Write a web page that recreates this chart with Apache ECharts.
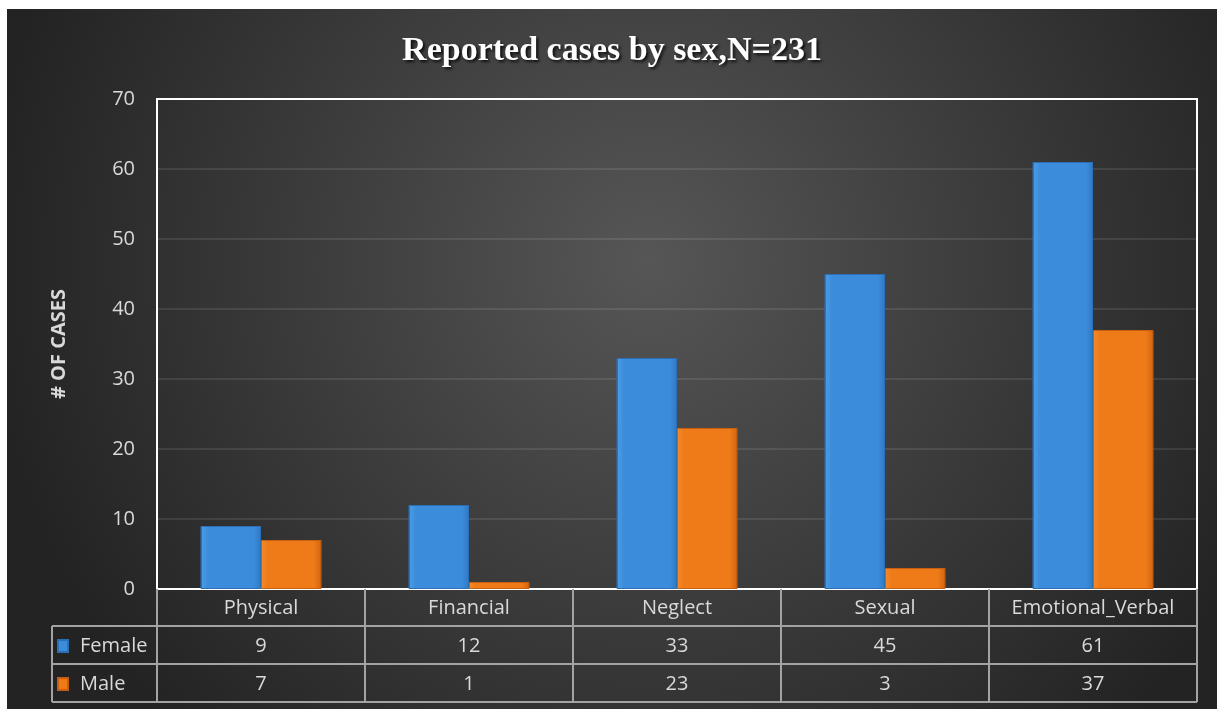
<!DOCTYPE html>
<html>
<head>
<meta charset="utf-8">
<script src="https://cdn.jsdelivr.net/npm/echarts@6/dist/echarts.min.js"></script>
<style>
html,body{margin:0;padding:0;background:#fff;}
#chart{position:absolute;left:7px;top:9px;width:1210px;height:700px;}
</style>
</head>
<body>
<div id="chart"></div>
<script>
const categories = ['Physical', 'Financial', 'Neglect', 'Sexual', 'Emotional_Verbal'];
const female = [9, 12, 33, 45, 61];
const male = [7, 1, 23, 3, 37];
const seriesNames = ['Female', 'Male'];
const yTicks = { min: 0, max: 70, interval: 10 };

const chart = echarts.init(document.getElementById('chart'));
const FONT = '"Open Sans", sans-serif';
const TXT = '#d9d9d9';
const LINE = '#a3a3a3';

function hGrad(c0, c1, c2) {
  return { type: 'linear', x: 0, y: 0, x2: 1, y2: 0,
    colorStops: [{offset:0,color:c0},{offset:0.12,color:c1},{offset:0.88,color:c1},{offset:1,color:c2}] };
}

const option = {
  backgroundColor: { type: 'radial', x: 0.53, y: 0.36, r: 0.95,
    colorStops: [{offset:0,color:'#565656'},{offset:1,color:'#232323'}] },
  animation: false,
  title: {
    text: 'Reported cases by sex,N=231',
    left: 'center', top: 20,
    textStyle: { fontFamily: '"Liberation Serif", serif', fontWeight: 'bold', fontSize: 34, color: '#ffffff',
      textShadowColor: 'rgba(0,0,0,0.8)', textShadowBlur: 3, textShadowOffsetX: 2, textShadowOffsetY: 2 }
  },
  legend: {
    data: seriesNames, orient: 'vertical', left: 45, top: 621,
    itemWidth: 10, itemHeight: 12, itemGap: 16, icon: 'rect',
    textStyle: { color: TXT, fontSize: 20, fontFamily: FONT, lineHeight: 22, padding: [0,0,0,7] },
    selectedMode: false
  },
  grid: { left: 150, top: 90, right: 20, bottom: 120, show: true,
    borderColor: '#ffffff', borderWidth: 2, backgroundColor: 'transparent' },
  xAxis: [
    { type: 'category', data: categories, position: 'bottom',
      axisLine: { show: false },
      axisTick: { show: true, interval: 0, length: 113, lineStyle: { color: LINE, width: 2 } },
      axisLabel: { interval: 0, hideOverlap: false, color: TXT, fontSize: 20, fontFamily: FONT, margin: 9 } },
    { type: 'category', data: categories, position: 'bottom', offset: 38,
      axisLine: { show: false }, axisTick: { show: false },
      axisLabel: { interval: 0, hideOverlap: false, color: TXT, fontSize: 20, fontFamily: FONT, margin: 9,
        formatter: (v, i) => String(female[i]) } },
    { type: 'category', data: categories, position: 'bottom', offset: 76,
      axisLine: { show: false }, axisTick: { show: false },
      axisLabel: { interval: 0, hideOverlap: false, color: TXT, fontSize: 20, fontFamily: FONT, margin: 9,
        formatter: (v, i) => String(male[i]) } }
  ],
  yAxis: {
    type: 'value', min: yTicks.min, max: yTicks.max, interval: yTicks.interval,
    name: '# OF CASES', nameLocation: 'middle', nameGap: 88, nameRotate: 90,
    nameTextStyle: { color: TXT, fontSize: 20, fontWeight: 'bold', fontFamily: FONT },
    axisLine: { show: false }, axisTick: { show: false },
    axisLabel: { color: TXT, fontSize: 20, fontFamily: FONT, margin: 22 },
    splitLine: { lineStyle: { color: 'rgba(255,255,255,0.13)', width: 1.5 } }
  },
  series: [
    { name: seriesNames[0], type: 'bar', data: female, barGap: '0%', barCategoryGap: '42%',
      itemStyle: { color: hGrad('#4a9fe8', '#3b8ddc', '#2f78c4'), borderColor: '#2c6fb5', borderWidth: 1 } },
    { name: seriesNames[1], type: 'bar', data: male,
      itemStyle: { color: hGrad('#f58a2c', '#ee7a18', '#d2650f'), borderColor: '#c75e10', borderWidth: 1 } }
  ],
  graphic: []
};
chart.setOption(option);

// table horizontal lines and left border, positioned from the grid
const g = chart.getModel().getComponent('grid').coordinateSystem.getRect();
const y0 = g.y + g.height;
const rowH = 38;
const tableLeft = 45;
const right = g.x + g.width;
const graphics = [];
[1, 2, 3].forEach(k => {
  graphics.push({ type: 'line', shape: { x1: tableLeft, y1: y0 + rowH * k - 1, x2: right, y2: y0 + rowH * k - 1 },
    style: { stroke: LINE, lineWidth: 2 }, z: 5 });
});
graphics.push({ type: 'line', shape: { x1: tableLeft, y1: y0 + rowH - 1, x2: tableLeft, y2: y0 + rowH * 3 - 1 },
  style: { stroke: LINE, lineWidth: 2 }, z: 5 });
chart.setOption({ graphic: graphics });
</script>
</body>
</html>
